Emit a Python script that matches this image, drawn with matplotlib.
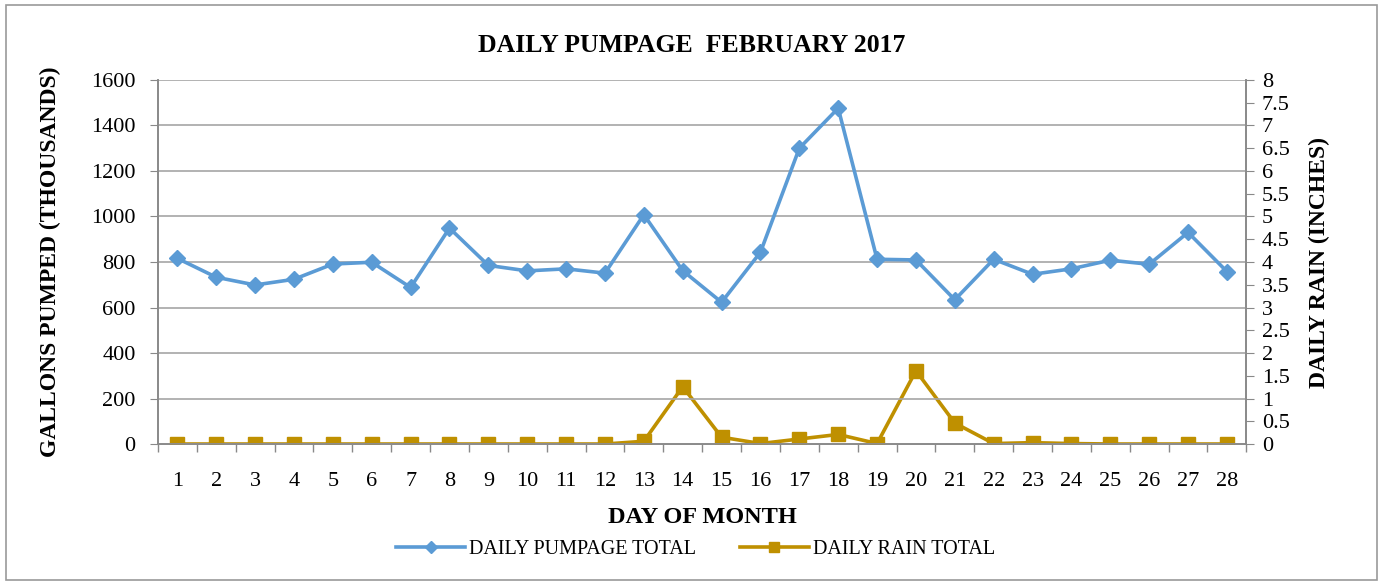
import matplotlib
matplotlib.use("Agg")
import matplotlib.pyplot as plt
from matplotlib.patches import Rectangle
from matplotlib.ticker import MultipleLocator

plt.rcParams['font.family'] = ['Liberation Serif', 'DejaVu Serif']

days = list(range(1, 29))
pumpage = [816, 733, 699, 724, 791, 799, 688, 949, 785, 761, 770, 751, 1008, 762,
           623, 843, 1300, 1476, 812, 809, 634, 812, 746, 770, 808, 790, 930, 758]
rain = [0, 0, 0, 0, 0, 0, 0, 0, 0, 0, 0, 0, 0.06, 1.26,
        0.15, 0.01, 0.11, 0.21, 0.01, 1.61, 0.46, 0.01, 0.03, 0.01, 0, 0, 0, 0]

blue = '#5B9BD5'
gold = '#BF9000'
axis_grey = '#898989'

fig = plt.figure(figsize=(13.83, 5.86), dpi=100)
fig.patches.append(Rectangle((0.004, 0.01), 0.992, 0.981, transform=fig.transFigure,
                             fill=False, edgecolor='#9A9A9A', linewidth=1.2))

ax = fig.add_axes([0.1142, 0.2423, 0.787, 0.6212])
ax2 = ax.twinx()

ax.plot(days, pumpage, color=blue, linewidth=2.6, marker='D', markersize=8.5,
        label='DAILY PUMPAGE TOTAL', zorder=3)
ax2.plot(days, rain, color=gold, linewidth=2.6, marker='s', markersize=10.5,
         label='DAILY RAIN TOTAL', zorder=3)

ax.set_xlim(0.5, 28.5)
ax.set_ylim(0, 1600)
ax2.set_ylim(0, 8)
ax.yaxis.set_major_locator(MultipleLocator(200))
ax2.yaxis.set_major_locator(MultipleLocator(0.5))
ax2.set_yticklabels([f'{v:g}' for v in ax2.get_yticks()])

ax.set_xticks(days)
ax.set_xticks([d + 0.5 for d in range(0, 29)], minor=True)
ax.tick_params(axis='x', which='major', length=0, pad=20, labelsize=16)
ax.tick_params(axis='x', which='minor', length=6, color=axis_grey, width=1)
ax.tick_params(axis='y', length=6, color=axis_grey, labelsize=16, pad=10)
ax2.tick_params(axis='y', length=6, color=axis_grey, labelsize=16, pad=5)

ax.grid(axis='y', color='#A6A6A6', linewidth=1.2)
ax.set_axisbelow(True)
for a in (ax, ax2):
    a.spines['top'].set_visible(False)
    for s in ('left', 'right', 'bottom'):
        a.spines[s].set_color(axis_grey)
        a.spines[s].set_linewidth(1.2)
ax.set_zorder(ax2.get_zorder() + 1)
ax.patch.set_visible(False)

ax.set_title('DAILY PUMPAGE  FEBRUARY 2017', fontsize=18.5, fontweight='bold', pad=20, x=0.49)
ax.set_xlabel('DAY OF MONTH', fontsize=17.5, fontweight='bold', labelpad=12)
ax.set_ylabel('GALLONS PUMPED (THOUSANDS)', fontsize=17, fontweight='bold', labelpad=22)
ax2.set_ylabel('DAILY RAIN (INCHES)', fontsize=17, fontweight='bold', labelpad=14)

h1, l1 = ax.get_legend_handles_labels()
h2, l2 = ax2.get_legend_handles_labels()
fig.legend(h1 + h2, l1 + l2, loc='center', bbox_to_anchor=(0.503, 0.063), ncol=2,
           frameon=False, fontsize=14.5, handlelength=3.4, columnspacing=2.2,
           handletextpad=0.2, markerscale=0.7)

fig.savefig('out.png', dpi=100)
